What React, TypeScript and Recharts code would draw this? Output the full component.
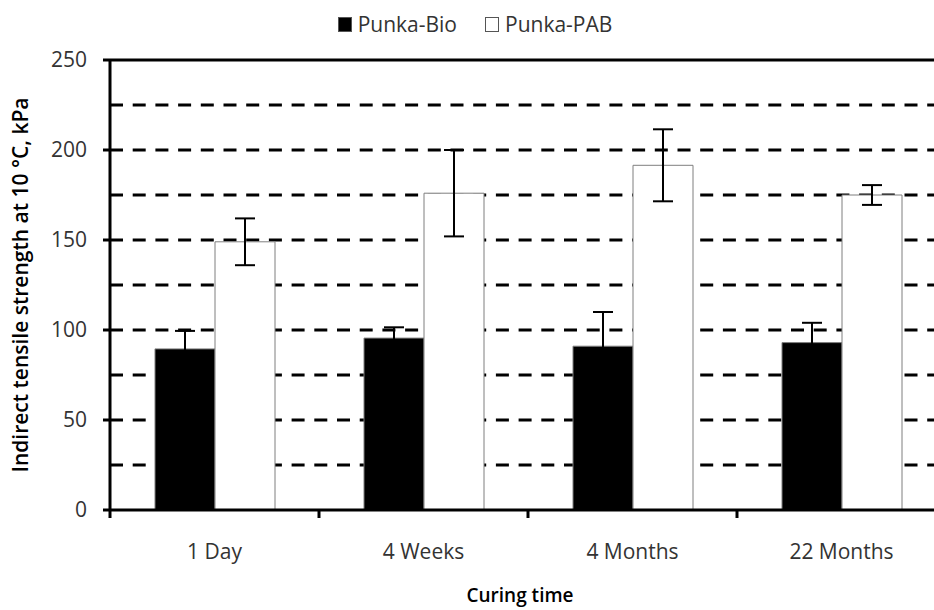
import React from 'react';
import { BarChart, Bar, XAxis, YAxis, CartesianGrid, ErrorBar, Legend, ReferenceLine } from 'recharts';

const CATEGORIES = ['1 Day', '4 Weeks', '4 Months', '22 Months'];
const BIO = [89.5, 95.5, 91, 93];
const BIO_ERR = [10, 6, 19, 11];
const PAB = [149, 176, 191.5, 175];
const PAB_ERR = [13, 24, 20, 5.5];
const Y_TICKS = [0, 50, 100, 150, 200, 250];
const GRID_VALUES = [25, 50, 75, 100, 125, 150, 175, 200, 225];
const SERIES_NAMES = ['Punka-Bio', 'Punka-PAB'];
const Y_TITLE = 'Indirect tensile strength at 10 °C, kPa';
const X_TITLE = 'Curing time';

const data = CATEGORIES.map((c, i) => ({
  name: c,
  bio: BIO[i],
  bioErr: BIO_ERR[i],
  pab: PAB[i],
  pabErr: PAB_ERR[i],
}));

const FONT = '"Open Sans", "Noto Sans", sans-serif';
const TEXT_COLOR = '#333';
const TICK_FONT_SIZE = 21;

const XTick = (props: any) => {
  const { x, y, payload, index, visibleTicksCount } = props;
  const half = payload && payload.offset ? payload.offset : 104.5;
  const axisY = y - 8;
  return (
    <g>
      <line x1={x - half} x2={x - half} y1={axisY} y2={axisY + 8} stroke="#000" strokeWidth={3} />
      {index === visibleTicksCount - 1 && (
        <line x1={x + half} x2={x + half} y1={axisY} y2={axisY + 8} stroke="#000" strokeWidth={3} />
      )}
      <text
        x={x}
        y={y}
        dy={33}
        textAnchor="middle"
        dominantBaseline="central"
        fill={TEXT_COLOR}
        fontSize={TICK_FONT_SIZE}
        fontFamily={FONT}
      >
        {payload.value}
      </text>
    </g>
  );
};

const LegendContent = () => (
  <div
    style={{
      display: 'flex',
      justifyContent: 'center',
      alignItems: 'center',
      fontFamily: FONT,
      fontSize: TICK_FONT_SIZE,
      color: TEXT_COLOR,
      gap: 28,
    }}
  >
    {SERIES_NAMES.map((n, i) => (
      <div key={n} style={{ display: 'flex', alignItems: 'center' }}>
        <span
          style={{
            display: 'inline-block',
            width: 14,
            height: 15,
            background: i === 0 ? '#000' : '#fff',
            border: '1px solid #555',
            boxSizing: 'border-box',
            marginRight: 6,
          }}
        />
        <span>{n}</span>
      </div>
    ))}
  </div>
);

export default function App() {
  return (
    <div style={{ position: 'absolute', left: 0, top: 0, width: 934, height: 610, overflow: 'hidden', background: '#fff' }}>
      <BarChart
        width={950}
        height={610}
        data={data}
        margin={{ top: 32, right: 4, left: 0, bottom: 0 }}
        barGap={0}
        barSize={60}
      >
        <CartesianGrid
          vertical={false}
          horizontalValues={GRID_VALUES}
          stroke="#000"
          strokeWidth={3}
          strokeDasharray="13 9.7"
        />
        <ReferenceLine y={250} stroke="#000" strokeWidth={3} />
        <Legend
          verticalAlign="top"
          content={<LegendContent />}
          wrapperStyle={{ top: 10, left: 0, width: 950 }}
        />
        <XAxis
          dataKey="name"
          height={100}
          tickLine={false}
          tickSize={8}
          tickMargin={0}
          axisLine={{ stroke: '#000', strokeWidth: 3 }}
          tick={<XTick />}
          interval={0}
          label={{
            value: X_TITLE,
            position: 'insideBottom',
            offset: 8,
            dx: -8,
            style: { fontFamily: FONT, fontSize: 19, fontWeight: 600, fill: '#000' },
          }}
        />
        <YAxis
          width={110}
          domain={[0, 250]}
          ticks={Y_TICKS}
          interval={0}
          tickSize={7}
          tickMargin={16}
          axisLine={{ stroke: '#000', strokeWidth: 3 }}
          tickLine={{ stroke: '#000', strokeWidth: 3 }}
          tick={{ fontFamily: FONT, fontSize: TICK_FONT_SIZE, fill: TEXT_COLOR }}
          label={{
            value: Y_TITLE,
            angle: -90,
            position: 'insideLeft',
            offset: 21,
            style: { textAnchor: 'middle', fontFamily: FONT, fontSize: 21, fontWeight: 600, fill: '#000' },
          }}
        />
        <Bar dataKey="bio" name={SERIES_NAMES[0]} fill="#000" stroke="#7f7f7f" strokeWidth={1} isAnimationActive={false}>
          <ErrorBar dataKey="bioErr" width={10} strokeWidth={2} stroke="#000" direction="y" />
        </Bar>
        <Bar dataKey="pab" name={SERIES_NAMES[1]} fill="#fff" stroke="#7f7f7f" strokeWidth={1} isAnimationActive={false}>
          <ErrorBar dataKey="pabErr" width={10} strokeWidth={2} stroke="#000" direction="y" />
        </Bar>
      </BarChart>
    </div>
  );
}
